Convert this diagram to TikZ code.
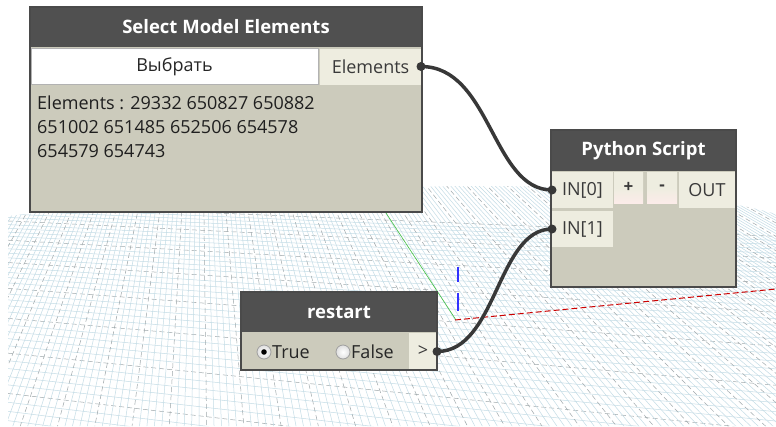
\documentclass[tikz,border=0pt]{standalone}
\usepackage{fontspec}
\setmainfont{Open Sans}
\definecolor{hdrc}{HTML}{505050}
\definecolor{bodyc}{HTML}{CCCBBC}
\definecolor{portc}{HTML}{EEEDE0}
\definecolor{bordc}{HTML}{4A4A4A}
\definecolor{txtc}{HTML}{3A3A3A}
\definecolor{wirec}{HTML}{383838}
\definecolor{gridfine}{HTML}{C4DCE6}
\definecolor{gridmajor}{HTML}{9FA8AB}
\begin{document}
\begin{tikzpicture}[x=1pt,y=-1pt,
  frame/.style={fill=bodyc, draw=none, inner sep=0, outer sep=0},
  outline/.style={draw=bordc, line width=1.6pt},
  hdr/.style={fill=hdrc, text=white, font=\bfseries\fontsize{18.5}{20}\selectfont, inner sep=0, outer sep=0, minimum height=40pt},
  portbox/.style={fill=portc, text=txtc, font=\fontsize{18}{20}\selectfont, inner sep=0, outer sep=0},
  pmbox/.style={top color=portc, bottom color=portc!75!red!25!white, middle color=portc, text=txtc, font=\bfseries\fontsize{17}{19}\selectfont, inner sep=0, outer sep=0},
  btn/.style={fill=white, draw=gray!60, text=black!85, font=\fontsize{18}{20}\selectfont, inner sep=0, outer sep=0},
  lbl/.style={text=black!85, font=\fontsize{18}{20}\selectfont, inner sep=0},
  radio/.style={circle, inner color=white, outer color=gray!25, draw=gray!75, line width=0.8pt, minimum size=14pt, inner sep=0},
  wire/.style={draw=wirec, line width=3.5pt},
  gfine/.style={draw=gridfine, line width=0.5pt},
  gmaj/.style={draw=gridmajor, line width=0.5pt, dash pattern=on 5pt off 3pt}
]
\useasboundingbox (0,0) rectangle (776,426);
\fill[white] (0,0) rectangle (776,426);
% ---------- background grid ----------
\begin{scope}
\clip (8,426) -- (8,216) .. controls (200,196) and (350,186) .. (480,186) .. controls (620,186) and (720,198) .. (776,214) -- (776,426) -- cycle;
\foreach \k in {0,...,44} {
  \pgfmathsetmacro\yy{100+104*1.03^\k}
  \pgfmathsetmacro\yr{\yy+0.32*(\yy-100)}
  \pgfmathtruncatemacro\m{mod(\k,5)}
  \ifnum\m=0 \draw[gmaj] (0,\yy) -- (800,\yr); \else \draw[gfine] (0,\yy) -- (800,\yr); \fi
}
\foreach \k in {0,...,240} {
  \pgfmathsetmacro\xx{-600+8.5*\k}
  \pgfmathtruncatemacro\m{mod(\k,5)}
  \ifnum\m=0 \draw[gmaj] (200,-100) -- (\xx,500); \else \draw[gfine] (200,-100) -- (\xx,500); \fi
}
\end{scope}
% axes
\draw[green!50!gray, line width=0.6pt] (386,213) -- (456,320);
\draw[red!80!black, line width=1pt, dash pattern=on 6pt off 3pt] (455,320) -- (776,289);
\draw[blue!80, line width=1.1pt] (458,267) -- (458,282);
\draw[blue!80, line width=1.1pt] (458,293) -- (458,311);
% ---------- Select Model Elements ----------
\node[frame, minimum width=392pt, minimum height=205pt] (sme) at (226,109.5) {};
\node[hdr, minimum width=392pt] (smeh) at (226,27) {Select Model Elements};
\node[btn, minimum width=287pt, minimum height=36pt] (pick) at (174.5,66.5) {Выбрать};
\node[portbox, minimum width=101pt, minimum height=36pt] (elp) at (370.5,66.5) {Elements};
\node[anchor=north west, align=left, font=\fontsize{18}{24}\selectfont, text=black!88, inner sep=0] (smtext) at (37,96)
  {Elements : 29332 650827 650882\\651002 651485 652506 654578\\654579 654743};
\draw[outline] (sme.north west) rectangle (sme.south east);
% ---------- Python Script ----------
\node[frame, minimum width=185pt, minimum height=157pt] (py) at (643.5,208.5) {};
\node[hdr, minimum width=185pt, minimum height=41pt] (pyh) at (643.5,150.5) {Python Script};
\node[portbox, minimum width=61pt, minimum height=36pt] (in0) at (582.5,190) {IN[0]};
\node[pmbox, minimum width=29pt, minimum height=31pt] (plus) at (628.5,187.5) {+};
\node[pmbox, minimum width=30pt, minimum height=31pt] (minus) at (662,187.5) {-};
\node[portbox, minimum width=56pt, minimum height=36pt] (outp) at (707,190) {OUT};
\node[portbox, minimum width=61pt, minimum height=36pt] (in1) at (582.5,229) {IN[1]};
\draw[outline] (py.north west) rectangle (py.south east);
% ---------- restart ----------
\node[frame, minimum width=196pt, minimum height=78pt] (rs) at (339,331) {};
\node[hdr, minimum width=196pt] (rsh) at (339,312) {restart};
\node[portbox, minimum width=28pt, minimum height=37pt] (bout) at (423,351.5) {>};
\node[radio] (rtrue) at (264,352) {};
\fill[black] (rtrue.center) circle (2.8);
\node[lbl, anchor=west] (ttrue) at (272,352) {True};
\node[radio] (rfalse) at (343,352) {};
\node[lbl, anchor=west] (tfalse) at (351,352) {False};
\draw[outline] (rs.north west) rectangle (rs.south east);
% ---------- wires ----------
\draw[wire] (elp.east) .. controls +(70,0) and +(-60,0) .. (in0.west);
\draw[wire] (bout.east) .. controls +(60,0) and +(-55,0) .. (in1.west);
\fill[wirec] (elp.east) circle (4.5);
\fill[wirec] (in0.west) circle (4.5);
\fill[wirec] (in1.west) circle (4.5);
\fill[wirec] (bout.east) circle (4.5);
\end{tikzpicture}
\end{document}
